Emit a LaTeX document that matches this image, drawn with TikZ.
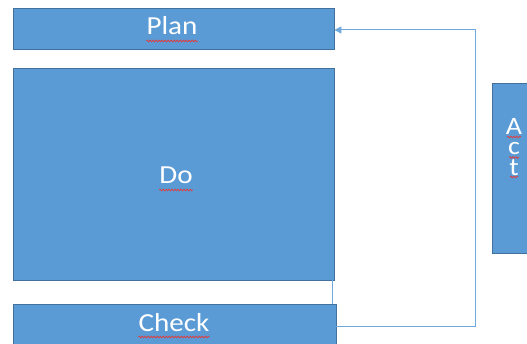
\documentclass[tikz,border=0pt]{standalone}
\usepackage{fontspec}
\setmainfont{Carlito}
\usetikzlibrary{arrows.meta,decorations.pathmorphing}
\definecolor{boxblue}{HTML}{5B9BD5}
\definecolor{boxedge}{HTML}{41719C}
\definecolor{conncol}{HTML}{6FA8DC}
\definecolor{squigred}{HTML}{E03A3A}
\begin{document}
\begin{tikzpicture}[x=1pt,y=-1pt,
  box/.style={draw=boxedge,line width=0.8pt,fill=boxblue,inner sep=0pt},
  lbl/.style={inner sep=0pt,text=white,anchor=base,xscale=1.12,font=\fontsize{26}{26}\selectfont},
  conn/.style={draw=conncol,line width=1pt},
  squig/.style={draw=squigred,line width=0.7pt,decorate,decoration={snake,amplitude=0.9pt,segment length=3pt}}]
\useasboundingbox (0,0) rectangle (527,344);
\clip (0,0) rectangle (527,344);
% boxes
\node[box,minimum width=321pt,minimum height=41pt] (Plan) at (173.5,28.5) {};
\node[box,minimum width=321pt,minimum height=212pt] (Do) at (173.5,174) {};
\node[box,minimum width=323pt,minimum height=41pt] (Check) at (174.5,324.5) {};
\node[box,minimum width=40pt,minimum height=170pt] (Act) at (512,168) {};
% labels
\node[lbl] (tPlan) at (172,35) {Plan};
\node[lbl] (tDo) at (176,184) {Do};
\node[lbl] (tCheck) at (174,331) {Check};
\node[lbl,anchor=north,align=center,font=\fontsize{25}{20.5}\selectfont] (tAct) at (514,118) {A\\c\\t};
% spell-check squiggles
\foreach \y/\w in {137/7,157.5/5,177/4}
  \draw[squig] ([xshift=-\w pt]tAct.north |- 0,\y) -- ([xshift=\w pt]tAct.north |- 0,\y);
\foreach \n in {tPlan,tDo,tCheck}
  \draw[squig] ([yshift=-6pt]\n.base west) -- ([yshift=-6pt]\n.base east);
% connectors
\draw[conn] ([xshift=-1.5pt]Do.south east) -- ([xshift=-1.5pt]Do.south east |- Check.north);
\draw[conn,-{Triangle[length=7pt,width=7pt]}] ([yshift=-2.5pt]Check.east) -| ([xshift=141pt,yshift=-1.5pt]Plan.east) -- ([yshift=-1.5pt]Plan.east);
\end{tikzpicture}
\end{document}
